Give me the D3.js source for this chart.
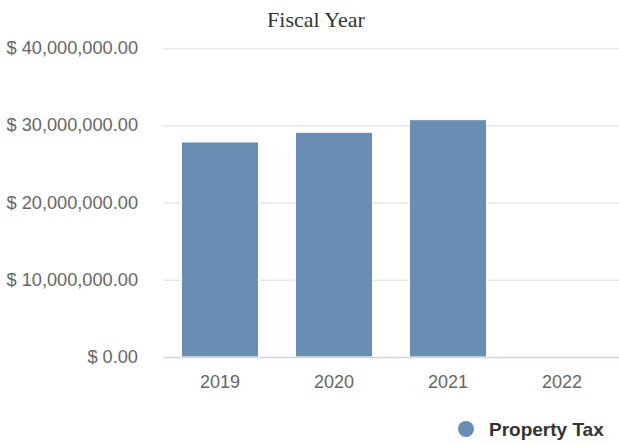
<!DOCTYPE html>
<html>
<head>
<meta charset="utf-8">
<script src="https://cdn.jsdelivr.net/npm/d3@7"></script>
<style>
  html, body { margin: 0; padding: 0; background: #fff; }
  svg { display: block; }
</style>
</head>
<body>
<svg id="chart" width="619" height="445"></svg>
<script>
const categories = ["2019", "2020", "2021", "2022"];
const propertyTax = [27830000, 29090000, 30720000, 0];
const yTicks = [0, 10000000, 20000000, 30000000, 40000000];
const chartTitle = "Fiscal Year";
const seriesName = "Property Tax";

const svg = d3.select("#chart");
const W = 619, H = 445;
const margin = { left: 163, right: 0, top: 48, bottom: 88 };

const x = d3.scaleBand().domain(categories)
  .range([margin.left, W - margin.right]).paddingInner(0).paddingOuter(0);
const y = d3.scaleLinear().domain([0, 40000000]).range([H - margin.bottom, margin.top]);

const fmt = v => "$ " + d3.format(",.2f")(v);

// gridlines
svg.append("g").selectAll("line").data(yTicks.filter(t => t !== 0)).join("line")
  .attr("x1", margin.left).attr("x2", W)
  .attr("y1", d => y(d) + 0.5).attr("y2", d => y(d) + 0.5)
  .attr("stroke", "#e6e6e6").attr("stroke-width", 1.5);

// y labels
svg.append("g").selectAll("text").data(yTicks).join("text")
  .attr("x", 138).attr("y", d => y(d) + 6)
  .attr("text-anchor", "end")
  .attr("font-family", "Liberation Sans, Arial, sans-serif")
  .attr("font-size", 18.2).attr("fill", "#666")
  .text(fmt);

// bars
const bw = 77;
svg.append("g").selectAll("rect").data(categories.map((c, i) => ({ c, v: propertyTax[i] })).filter(d => d.v > 0)).join("rect")
  .attr("x", d => x(d.c) + x.bandwidth() / 2 - bw / 2)
  .attr("width", bw)
  .attr("y", d => y(d.v))
  .attr("height", d => y(0) - y(d.v))
  .attr("fill", "#6a8db4")
  .attr("stroke", "#fff").attr("stroke-width", 1);

// x axis line
svg.append("line")
  .attr("x1", margin.left).attr("x2", W)
  .attr("y1", y(0) + 0.5).attr("y2", y(0) + 0.5)
  .attr("stroke", "#ccd6eb").attr("stroke-width", 1.5);

// x labels
svg.append("g").selectAll("text").data(categories).join("text")
  .attr("x", d => x(d) + x.bandwidth() / 2).attr("y", 388)
  .attr("text-anchor", "middle")
  .attr("font-family", "Liberation Sans, Arial, sans-serif")
  .attr("font-size", 18).attr("fill", "#666")
  .text(d => d);

// title
svg.append("text")
  .attr("x", 316).attr("y", 27)
  .attr("text-anchor", "middle")
  .attr("font-family", "Liberation Serif, Times New Roman, serif")
  .attr("font-size", 22).attr("fill", "#333")
  .text(chartTitle);

// legend
svg.append("circle").attr("cx", 466).attr("cy", 429).attr("r", 8).attr("fill", "#6a8db4");
svg.append("text")
  .attr("x", 489).attr("y", 436)
  .attr("font-family", "Liberation Sans, Arial, sans-serif")
  .attr("font-size", 19).attr("font-weight", "bold").attr("fill", "#333")
  .text(seriesName);
</script>
</body>
</html>
